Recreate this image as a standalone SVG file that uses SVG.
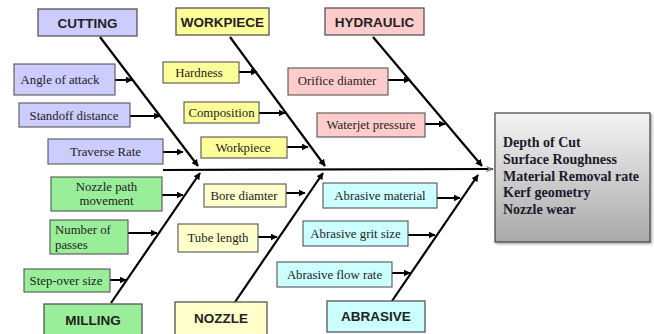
<svg xmlns="http://www.w3.org/2000/svg" width="654" height="334" viewBox="0 0 654 334">
<defs>
<marker id="ah" viewBox="0 0 10 10" refX="9" refY="5" markerWidth="7" markerHeight="7" markerUnits="userSpaceOnUse" orient="auto">
<path d="M0,0 L10,5 L0,10 z" fill="#000"/>
</marker>
<marker id="ah2" viewBox="0 0 10 10" refX="9" refY="5" markerWidth="8" markerHeight="8" markerUnits="userSpaceOnUse" orient="auto">
<path d="M0,1 L10,5 L0,9 L3,5 z" fill="#777"/>
</marker>
<linearGradient id="gg" x1="0" y1="0" x2="0" y2="1">
<stop offset="0" stop-color="#f4f4f4"/>
<stop offset="1" stop-color="#a9a9a9"/>
</linearGradient>
<filter id="sh" x="-10%" y="-10%" width="120%" height="120%">
<feDropShadow dx="1.5" dy="1.5" stdDeviation="1" flood-color="#000" flood-opacity="0.35"/>
</filter>
</defs>
<style>
.hd{stroke:#555;stroke-width:1.3}
.bx{stroke:#555;stroke-width:1.1}
.ht{font-family:"Liberation Sans",Arial,sans-serif;font-weight:bold;font-size:13.5px;fill:#222;text-anchor:middle}
.lt{font-family:"Liberation Serif","Times New Roman",serif;font-size:12.8px;fill:#222;text-anchor:middle}
.ll{font-family:"Liberation Serif","Times New Roman",serif;font-size:12.8px;fill:#222}
.ot{font-family:"Liberation Serif","Times New Roman",serif;font-weight:bold;font-size:14px;fill:#1a1a2a}
.bone{stroke:#000;stroke-width:2.2;fill:none}
.sub{stroke:#000;stroke-width:2;fill:none}
.c1{fill:#ccccff}.c2{fill:#ffff99}.c3{fill:#ffcccc}.c4{fill:#99ee99}.c5{fill:#ffffcc}.c6{fill:#ccffff}
</style>
<rect width="654" height="334" fill="#fff"/>
<g id="connectors">
<line class="bone" x1="163" y1="170" x2="493" y2="169" marker-end="url(#ah2)"/>
<line class="bone" x1="100" y1="37" x2="198" y2="166" marker-end="url(#ah)"/>
<line class="bone" x1="230" y1="37" x2="325" y2="166" marker-end="url(#ah)"/>
<line class="bone" x1="373" y1="37" x2="482" y2="166" marker-end="url(#ah)"/>
<line class="bone" x1="111" y1="303" x2="200" y2="173" marker-end="url(#ah)"/>
<line class="bone" x1="235" y1="302" x2="323" y2="173" marker-end="url(#ah)"/>
<line class="bone" x1="392" y1="301" x2="478" y2="175" marker-end="url(#ah)"/>
<line class="sub" x1="115" y1="80" x2="132" y2="80" marker-end="url(#ah)"/>
<line class="sub" x1="130" y1="116" x2="160" y2="116" marker-end="url(#ah)"/>
<line class="sub" x1="163" y1="152" x2="183" y2="152" marker-end="url(#ah)"/>
<line class="sub" x1="239" y1="72" x2="257" y2="72" marker-end="url(#ah)"/>
<line class="sub" x1="259" y1="113" x2="285" y2="113" marker-end="url(#ah)"/>
<line class="sub" x1="287" y1="147" x2="308" y2="147" marker-end="url(#ah)"/>
<line class="sub" x1="388" y1="80" x2="410" y2="80" marker-end="url(#ah)"/>
<line class="sub" x1="425" y1="124" x2="445" y2="124" marker-end="url(#ah)"/>
<line class="sub" x1="162" y1="195" x2="183" y2="195" marker-end="url(#ah)"/>
<line class="sub" x1="128" y1="233" x2="157" y2="233" marker-end="url(#ah)"/>
<line class="sub" x1="110" y1="280" x2="126" y2="280" marker-end="url(#ah)"/>
<line class="sub" x1="286" y1="193" x2="305" y2="193" marker-end="url(#ah)"/>
<line class="sub" x1="258" y1="237" x2="277" y2="237" marker-end="url(#ah)"/>
<line class="sub" x1="437" y1="198" x2="460" y2="198" marker-end="url(#ah)"/>
<line class="sub" x1="408" y1="235" x2="435" y2="235" marker-end="url(#ah)"/>
<line class="sub" x1="392" y1="273" x2="410" y2="273" marker-end="url(#ah)"/>
</g>
<g id="cutting"><rect class="hd c1" x="38" y="9" width="99" height="27"/><text class="ht" x="87.5" y="27.5">CUTTING</text></g>
<g id="workpiece-h"><rect class="hd c2" x="176" y="8" width="93" height="27"/><text class="ht" x="222.5" y="26.5">WORKPIECE</text></g>
<g id="hydraulic"><rect class="hd c3" x="325" y="8" width="99" height="27"/><text class="ht" x="374.5" y="26.5">HYDRAULIC</text></g>
<g id="milling"><rect class="hd c4" x="44" y="304" width="98" height="34"/><text class="ht" x="93" y="325">MILLING</text></g>
<g id="nozzle"><rect class="hd c5" x="175" y="302" width="92" height="36"/><text class="ht" x="221" y="323">NOZZLE</text></g>
<g id="abrasive"><rect class="hd c6" x="327" y="301" width="98" height="31"/><text class="ht" x="376" y="321">ABRASIVE</text></g>
<g id="angle"><rect class="bx c1" x="14" y="64" width="101" height="31"/><text class="lt" x="60" y="84">Angle  of attack</text></g>
<g id="standoff"><rect class="bx c1" x="19" y="103" width="111" height="24"/><text class="lt" x="74" y="119.5">Standoff  distance</text></g>
<g id="traverse"><rect class="bx c1" x="48" y="139" width="115" height="25"/><text class="lt" x="105.5" y="156">Traverse  Rate</text></g>
<g id="hardness"><rect class="bx c2" x="163" y="62" width="76" height="21"/><text class="lt" x="199" y="77">Hardness</text></g>
<g id="composition"><rect class="bx c2" x="184" y="102" width="75" height="21"/><text class="lt" x="221.5" y="117">Composition</text></g>
<g id="workpiece"><rect class="bx c2" x="201" y="137" width="86" height="21"/><text class="lt" x="243" y="152">Workpiece</text></g>
<g id="orifice"><rect class="bx c3" x="288" y="68" width="100" height="27"/><text class="lt" x="337" y="85">Orifice  diamter</text></g>
<g id="waterjet"><rect class="bx c3" x="317" y="113" width="108" height="24"/><text class="lt" x="371" y="129">Waterjet pressure</text></g>
<g id="nozzlepath"><rect class="bx c4" x="51" y="177" width="111" height="34"/><text class="lt" x="106.5" y="191">Nozzle path</text><text class="lt" x="106.5" y="205">movement</text></g>
<g id="passes"><rect class="bx c4" x="50" y="220" width="78" height="34"/><text class="ll" x="55" y="234">Number  of</text><text class="ll" x="55" y="249">passes</text></g>
<g id="stepover"><rect class="bx c4" x="24" y="269" width="86" height="23"/><text class="lt" x="66" y="285">Step-over size</text></g>
<g id="bore"><rect class="bx c5" x="204" y="184" width="82" height="23"/><text class="lt" x="244" y="200">Bore diamter</text></g>
<g id="tube"><rect class="bx c5" x="178" y="224" width="80" height="28"/><text class="lt" x="218" y="242">Tube length</text></g>
<g id="abrmat"><rect class="bx c6" x="323" y="183" width="114" height="25"/><text class="lt" x="380" y="200">Abrasive  material</text></g>
<g id="abrgrit"><rect class="bx c6" x="303" y="221" width="105" height="25"/><text class="lt" x="355.5" y="238">Abrasive  grit  size</text></g>
<g id="abrflow"><rect class="bx c6" x="277" y="262" width="115" height="25"/><text class="lt" x="334.5" y="279">Abrasive  flow  rate</text></g>
<g id="outcome">
<rect x="495" y="113" width="155" height="129" fill="url(#gg)" stroke="#444" stroke-width="1.2" filter="url(#sh)"/>
<text class="ot" x="503" y="147">Depth of Cut</text>
<text class="ot" x="503" y="164">Surface  Roughness</text>
<text class="ot" x="503" y="181">Material Removal rate</text>
<text class="ot" x="503" y="197">Kerf geometry</text>
<text class="ot" x="503" y="214">Nozzle wear</text>
</g>
</svg>
